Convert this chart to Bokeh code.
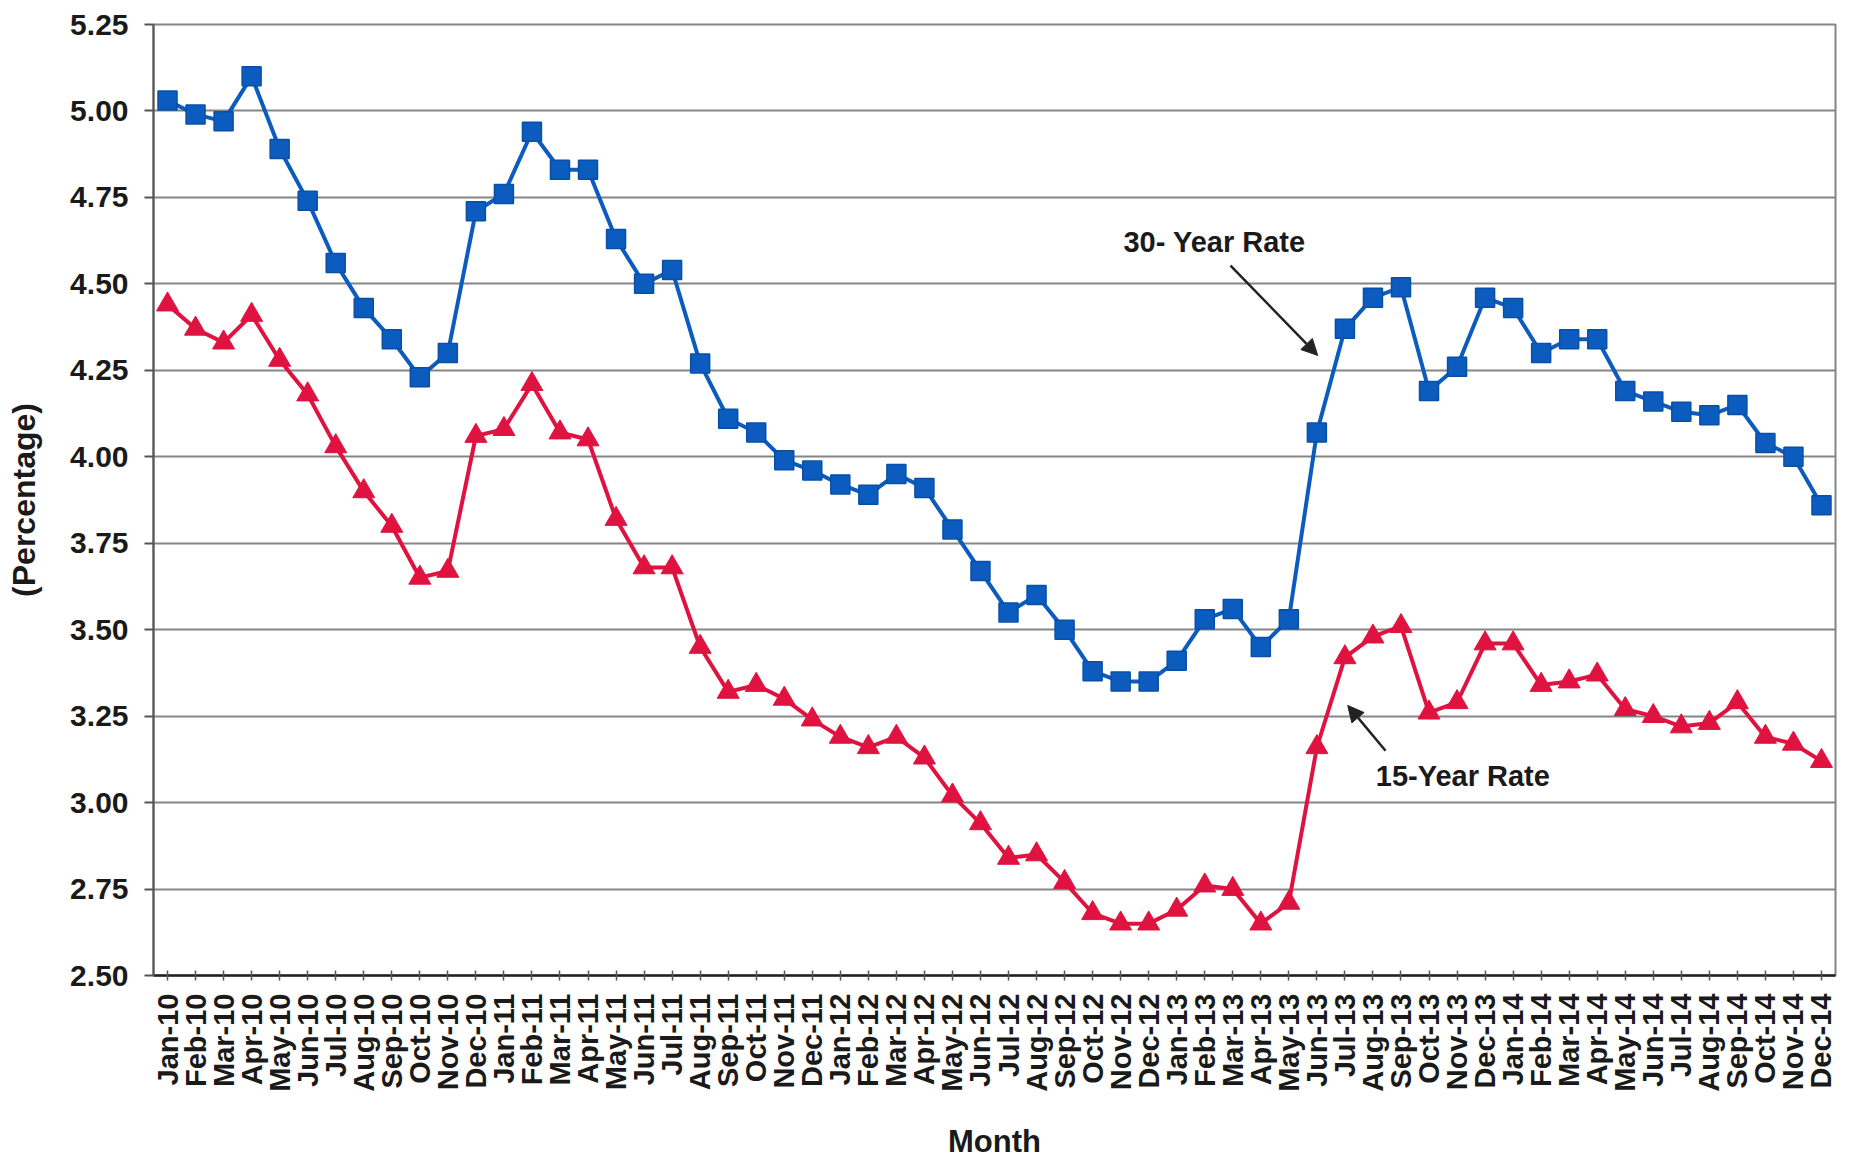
import math
from bokeh.plotting import figure
from bokeh.models import FactorRange, Range1d, FixedTicker, NumeralTickFormatter, Label, Arrow, NormalHead
from bokeh.embed import file_html
from bokeh.resources import INLINE

months = [
    "Jan-10", "Feb-10", "Mar-10", "Apr-10", "May-10", "Jun-10", "Jul-10", "Aug-10", "Sep-10", "Oct-10", "Nov-10", "Dec-10",
    "Jan-11", "Feb-11", "Mar-11", "Apr-11", "May-11", "Jun-11", "Jul-11", "Aug-11", "Sep-11", "Oct-11", "Nov-11", "Dec-11",
    "Jan-12", "Feb-12", "Mar-12", "Apr-12", "May-12", "Jun-12", "Jul-12", "Aug-12", "Sep-12", "Oct-12", "Nov-12", "Dec-12",
    "Jan-13", "Feb-13", "Mar-13", "Apr-13", "May-13", "Jun-13", "Jul-13", "Aug-13", "Sep-13", "Oct-13", "Nov-13", "Dec-13",
    "Jan-14", "Feb-14", "Mar-14", "Apr-14", "May-14", "Jun-14", "Jul-14", "Aug-14", "Sep-14", "Oct-14", "Nov-14", "Dec-14",
]

rate_30yr = [
    5.03, 4.99, 4.97, 5.10, 4.89, 4.74, 4.56, 4.43, 4.34, 4.23, 4.30, 4.71,
    4.76, 4.94, 4.83, 4.83, 4.63, 4.50, 4.54, 4.27, 4.11, 4.07, 3.99, 3.96,
    3.92, 3.89, 3.95, 3.91, 3.79, 3.67, 3.55, 3.60, 3.50, 3.38, 3.35, 3.35,
    3.41, 3.53, 3.56, 3.45, 3.53, 4.07, 4.37, 4.46, 4.49, 4.19, 4.26, 4.46,
    4.43, 4.30, 4.34, 4.34, 4.19, 4.16, 4.13, 4.12, 4.15, 4.04, 4.00, 3.86,
]

rate_15yr = [
    4.44, 4.37, 4.33, 4.41, 4.28, 4.18, 4.03, 3.90, 3.80, 3.65, 3.67, 4.06,
    4.08, 4.21, 4.07, 4.05, 3.82, 3.68, 3.68, 3.45, 3.32, 3.34, 3.30, 3.24,
    3.19, 3.16, 3.19, 3.13, 3.02, 2.94, 2.84, 2.85, 2.77, 2.68, 2.65, 2.65,
    2.69, 2.76, 2.75, 2.65, 2.71, 3.16, 3.42, 3.48, 3.51, 3.26, 3.29, 3.46,
    3.46, 3.34, 3.35, 3.37, 3.27, 3.25, 3.22, 3.23, 3.29, 3.19, 3.17, 3.12,
]

y_ticks = [2.50, 2.75, 3.00, 3.25, 3.50, 3.75, 4.00, 4.25, 4.50, 4.75, 5.00, 5.25]

BLUE = "#0B5CBE"
BLUE_EDGE = "#0A4FA6"
RED = "#E0123F"
TEXT = "#1a1a1a"
GRID = "#858585"
FONT = "Liberation Sans"

p = figure(
    width=1845, height=1161,
    x_range=FactorRange(*months, range_padding=0, factor_padding=0),
    y_range=Range1d(y_ticks[0], y_ticks[-1]),
    output_backend="svg", toolbar_location=None,
    min_border_left=153, min_border_right=10, min_border_top=24, min_border_bottom=186,
    background_fill_color="white", border_fill_color="white",
)

p.outline_line_color = GRID
p.outline_line_width = 2

p.xgrid.visible = False
p.ygrid.ticker = FixedTicker(ticks=y_ticks)
p.ygrid.grid_line_color = GRID
p.ygrid.grid_line_width = 2

# series
p.line(x=months, y=rate_30yr, line_color=BLUE, line_width=4)
p.scatter(x=months, y=rate_30yr, marker="square", size=19, fill_color=BLUE, line_color=BLUE_EDGE, line_width=1.5)
p.line(x=months, y=rate_15yr, line_color=RED, line_width=4)
p.scatter(x=months, y=rate_15yr, marker="triangle", size=22, fill_color=RED, line_color=RED, line_width=1)

# y axis
ya = p.yaxis[0]
ya.ticker = FixedTicker(ticks=y_ticks)
ya.formatter = NumeralTickFormatter(format="0.00")
ya.axis_label = "(Percentage)"
ya.axis_label_text_font = FONT
ya.axis_label_text_font_style = "bold"
ya.axis_label_text_font_size = "32px"
ya.axis_label_text_color = TEXT
ya.axis_label_standoff = 25
ya.major_label_text_font = FONT
ya.major_label_text_font_style = "bold"
ya.major_label_text_font_size = "30px"
ya.major_label_text_color = TEXT
ya.major_label_standoff = 16
ya.major_tick_in = 0
ya.major_tick_out = 9
ya.major_tick_line_color = "#555555"
ya.major_tick_line_width = 2
ya.minor_tick_line_color = None
ya.axis_line_color = "#555555"
ya.axis_line_width = 2

# x axis
xa = p.xaxis[0]
xa.axis_label = "Month"
xa.axis_label_text_font = FONT
xa.axis_label_text_font_style = "bold"
xa.axis_label_text_font_size = "31px"
xa.axis_label_text_color = TEXT
xa.axis_label_standoff = 29
xa.major_label_orientation = math.pi / 2
xa.major_label_text_font = FONT
xa.major_label_text_font_style = "bold"
xa.major_label_text_font_size = "29px"
xa.major_label_text_color = TEXT
xa.major_label_standoff = 13
xa.major_tick_in = 5
xa.major_tick_out = 5
xa.major_tick_line_color = "#555555"
xa.major_tick_line_width = 1.5
xa.axis_line_color = "#222222"
xa.axis_line_width = 2.5

# annotations
n30 = months.index("Jul-13")
n15 = months.index("Jul-13")
p.add_layout(Label(x=34.6, y=4.62, text="30- Year Rate", text_font=FONT, text_font_style="bold",
                   text_font_size="29px", text_color=TEXT, text_align="left", text_baseline="middle"))
p.add_layout(Arrow(end=NormalHead(size=16, fill_color="#222222", line_color="#222222"),
                   x_start=38.42, y_start=4.553, x_end=n30 - 0.47, y_end=4.293,
                   line_color="#222222", line_width=2.5))
p.add_layout(Label(x=43.6, y=3.078, text="15-Year Rate", text_font=FONT, text_font_style="bold",
                   text_font_size="29px", text_color=TEXT, text_align="left", text_baseline="middle"))
p.add_layout(Arrow(end=NormalHead(size=16, fill_color="#222222", line_color="#222222"),
                   x_start=43.95, y_start=3.15, x_end=n15 + 0.6, y_end=3.281,
                   line_color="#222222", line_width=2.5))

open("out.html", "w").write(file_html(p, INLINE))
